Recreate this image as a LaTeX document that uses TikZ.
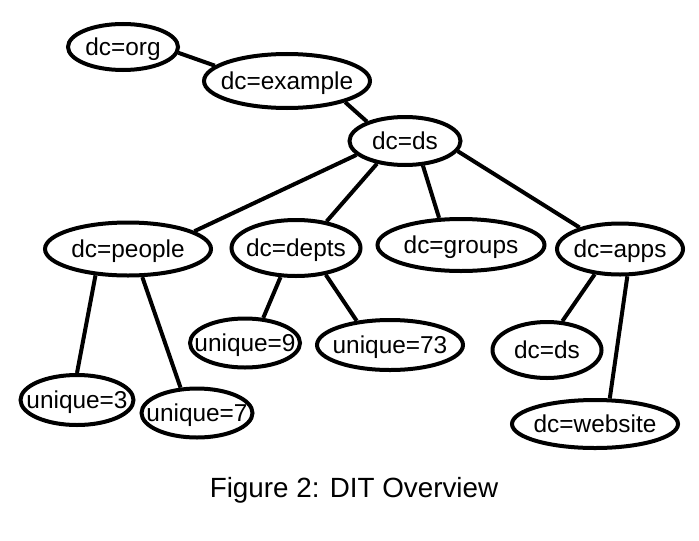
\documentclass[tikz,border=0pt]{standalone}
\usepackage{fontspec}
\setmainfont{Liberation Sans}
\usetikzlibrary{shapes.geometric}
\tikzset{
  ent/.style 2 args={draw,ellipse,line width=2pt,inner sep=0pt,
    text height=8.8pt,text depth=0pt,
    minimum width=#1pt,minimum height=#2pt,font=\fontsize{12.2}{14}\selectfont},
  link/.style={line width=2pt}
}
\newcommand{\entname}[1]{\makebox[0pt]{#1}}
\begin{document}
\begin{tikzpicture}[x=0.5pt,y=-0.5pt]
  \useasboundingbox (0,0) rectangle (699,540);
  \node[ent={55}{23}] (org) at (123,47) {\entname{dc=org}};
  \node[ent={83}{27}] (example) at (287,81) {\entname{dc=example}};
  \node[ent={55.5}{24}] (ds) at (405,141) {\entname{dc=ds}};
  \node[ent={83}{26.5}] (people) at (128,249) {\entname{dc=people}};
  \node[ent={64.5}{28}] (depts) at (296,248) {\entname{dc=depts}};
  \node[ent={83.5}{26}] (groups) at (461,245) {\entname{dc=groups}};
  \node[ent={63}{25.5}] (apps) at (620,249) {\entname{dc=apps}};
  \node[ent={55}{24.5}] (uniq9) at (245,343) {\entname{unique=9}};
  \node[ent={73}{25}] (uniq73) at (390,345) {\entname{unique=73}};
  \node[ent={56.5}{25}] (uniq3) at (77,400) {\entname{unique=3}};
  \node[ent={55.5}{24.5}] (uniq7) at (197,413) {\entname{unique=7}};
  \node[ent={54.5}{28}] (appds) at (547,350) {\entname{dc=ds}};
  \node[ent={83}{24}] (website) at (595,424) {\entname{dc=website}};
  \draw[link] (org.354) -- (example.168);
  \draw[link] (example.340) -- (ds.153);
  \draw[link] (ds.196) -- (people.15);
  \draw[link] (ds.219) -- (depts.41);
  \draw[link] (ds.306) -- (groups.129);
  \draw[link] (ds.349) -- (apps.152);
  \draw[link] (people.219) -- (uniq3.north);
  \draw[link] (people.297) -- (uniq7.123);
  \draw[link] (depts.242) -- (uniq9.54);
  \draw[link] (depts.318) -- (uniq73.144);
  \draw[link] (apps.225) -- (appds.62);
  \draw[link] (apps.285) -- (website.60);
  \node[font=\fontsize{13.9}{16}\selectfont] (caption) at (354,490) {Figure 2: DIT Overview};
\end{tikzpicture}
\end{document}
